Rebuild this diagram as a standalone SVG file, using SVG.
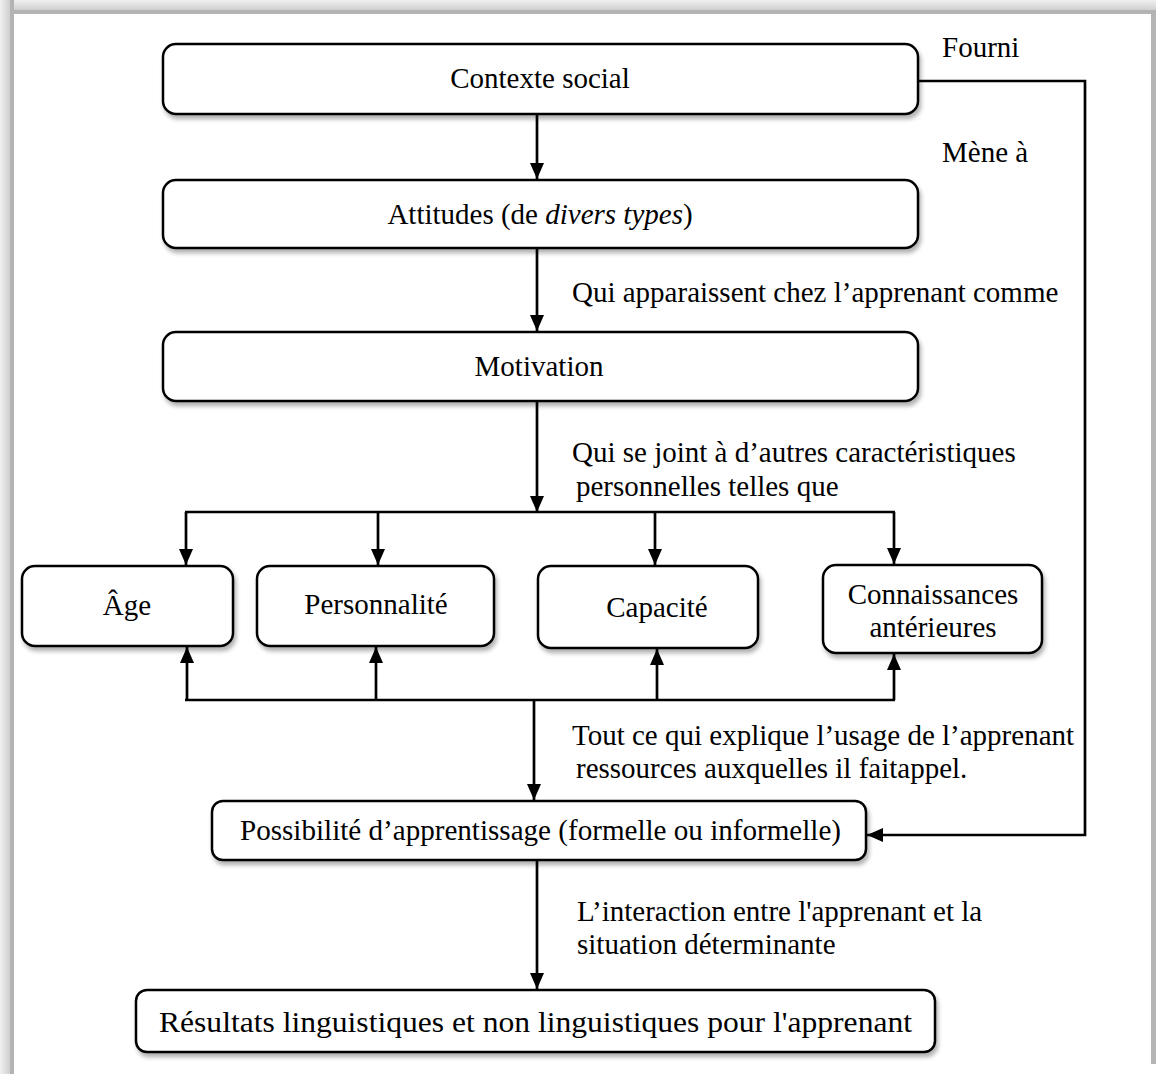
<svg xmlns="http://www.w3.org/2000/svg" width="1156" height="1074" viewBox="0 0 1156 1074">
<defs>
<style>
.box{fill:#fff;stroke:#000;stroke-width:2.5;filter:url(#sh)}
.t{font-family:"Liberation Serif","Times New Roman",serif;font-size:29px;fill:#000}
.c{text-anchor:middle}
.ln{fill:none;stroke:#000;stroke-width:2.7}
</style>
<filter id="sh" x="-5%" y="-20%" width="110%" height="150%">
<feDropShadow dx="2" dy="4" stdDeviation="2" flood-color="#000" flood-opacity="0.3"/>
</filter>
<marker id="ah" markerWidth="16" markerHeight="14" viewBox="0 0 16 14" refX="16" refY="7" orient="auto" markerUnits="userSpaceOnUse">
<path d="M0,0 L16,7 L0,14 Z" fill="#000"/>
</marker>
<linearGradient id="gt" x1="0" y1="0" x2="0" y2="1">
<stop offset="0" stop-color="#f0f0f0"/><stop offset="0.7" stop-color="#d0d0d0"/><stop offset="0.75" stop-color="#b4b4b4"/><stop offset="1" stop-color="#b4b4b4"/>
</linearGradient>
<linearGradient id="gl" x1="0" y1="0" x2="1" y2="0">
<stop offset="0" stop-color="#f0f0f0"/><stop offset="0.7" stop-color="#d0d0d0"/><stop offset="0.75" stop-color="#b4b4b4"/><stop offset="1" stop-color="#b4b4b4"/>
</linearGradient>
</defs>
<rect x="0" y="0" width="1156" height="1074" fill="#fff"/>
<rect x="0" y="0" width="1156" height="14" fill="url(#gt)"/>
<rect x="0" y="0" width="14" height="1074" fill="url(#gl)"/>
<rect x="1151" y="10" width="5" height="1054" fill="#b4b4b4"/>

<g id="connectors">
<line class="ln" x1="537" y1="115" x2="537" y2="179" marker-end="url(#ah)"/>
<line class="ln" x1="537" y1="249" x2="537" y2="331" marker-end="url(#ah)"/>
<line class="ln" x1="537" y1="402" x2="537" y2="512" marker-end="url(#ah)"/>
<line class="ln" x1="185" y1="512" x2="895" y2="512"/>
<line class="ln" x1="186" y1="512" x2="186" y2="565" marker-end="url(#ah)"/>
<line class="ln" x1="378" y1="512" x2="378" y2="565" marker-end="url(#ah)"/>
<line class="ln" x1="655" y1="512" x2="655" y2="565" marker-end="url(#ah)"/>
<line class="ln" x1="894" y1="512" x2="894" y2="564" marker-end="url(#ah)"/>
<line class="ln" x1="185" y1="700" x2="895" y2="700"/>
<line class="ln" x1="187" y1="700" x2="187" y2="647" marker-end="url(#ah)"/>
<line class="ln" x1="376" y1="700" x2="376" y2="647" marker-end="url(#ah)"/>
<line class="ln" x1="657" y1="700" x2="657" y2="649" marker-end="url(#ah)"/>
<line class="ln" x1="894" y1="700" x2="894" y2="654" marker-end="url(#ah)"/>
<line class="ln" x1="534" y1="700" x2="534" y2="800" marker-end="url(#ah)"/>
<line class="ln" x1="537" y1="861" x2="537" y2="989" marker-end="url(#ah)"/>
<polyline class="ln" points="918,81 1085,81 1085,835 867,835" marker-end="url(#ah)"/>
</g>

<g id="n1"><rect class="box" x="163" y="44" width="755" height="70" rx="13"/>
<text class="t c" x="540" y="88">Contexte social</text></g>
<g id="n2"><rect class="box" x="163" y="180" width="755" height="68" rx="13"/>
<text class="t c" x="540" y="224">Attitudes (de <tspan font-style="italic">divers types</tspan>)</text></g>
<g id="n3"><rect class="box" x="163" y="332" width="755" height="69" rx="13"/>
<text class="t c" x="539" y="376">Motivation</text></g>
<g id="n4"><rect class="box" x="22" y="566" width="211" height="80" rx="13"/>
<text class="t c" x="127" y="615">Âge</text></g>
<g id="n5"><rect class="box" x="257" y="566" width="237" height="80" rx="13"/>
<text class="t c" x="376" y="614">Personnalité</text></g>
<g id="n6"><rect class="box" x="538" y="566" width="220" height="82" rx="13"/>
<text class="t c" x="657" y="617">Capacité</text></g>
<g id="n7"><rect class="box" x="823" y="565" width="219" height="88" rx="13"/>
<text class="t c" x="933" y="604">Connaissances</text>
<text class="t c" x="933" y="637">antérieures</text></g>
<g id="n8"><rect class="box" x="212" y="801" width="654" height="59" rx="11"/>
<text class="t" x="240" y="840" font-size="30" textLength="601" lengthAdjust="spacingAndGlyphs">Possibilité d’apprentissage (formelle ou informelle)</text></g>
<g id="n9"><rect class="box" x="136" y="990" width="799" height="62" rx="11"/>
<text class="t" x="159" y="1032" font-size="34" textLength="753" lengthAdjust="spacingAndGlyphs">Résultats linguistiques et non linguistiques pour l'apprenant</text></g>

<g id="labels">
<text class="t" x="942" y="57">Fourni</text>
<text class="t" x="942" y="162">Mène à</text>
<text class="t" x="572" y="302">Qui apparaissent chez l’apprenant comme</text>
<text class="t" x="572" y="462">Qui se joint à d’autres caractéristiques</text>
<text class="t" x="576" y="496">personnelles telles que</text>
<text class="t" x="572" y="745">Tout ce qui explique l’usage de l’apprenant</text>
<text class="t" x="576" y="778">ressources auxquelles il faitappel.</text>
<text class="t" x="577" y="921">L’interaction entre l'apprenant et la</text>
<text class="t" x="577" y="954">situation déterminante</text>
</g>
</svg>
